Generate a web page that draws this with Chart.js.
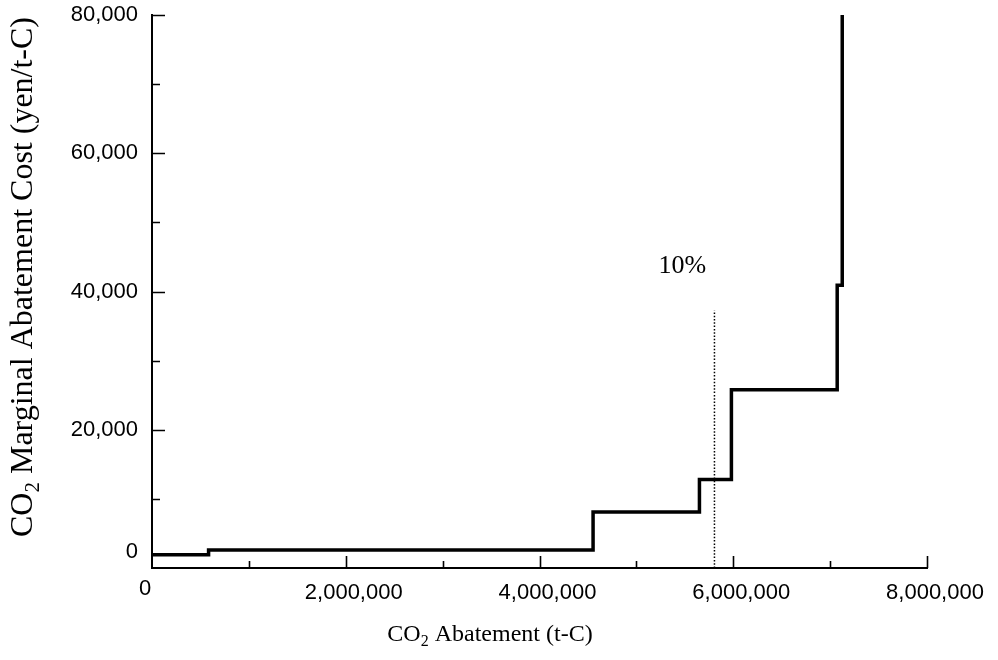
<!DOCTYPE html>
<html>
<head>
<meta charset="utf-8">
<script src="https://cdn.jsdelivr.net/npm/chart.js@4/dist/chart.umd.min.js"></script>
<style>
html,body{margin:0;padding:0;background:#fff;}
#wrap{width:998px;height:660px;}
</style>
</head>
<body>
<div id="wrap"><canvas id="c" width="998" height="660"></canvas></div>
<script>
/* DATA */
let abatement=[0,584000,4553000,5651000,5981000,7073000,7125000];
let cost=[1900,2600,8100,12800,25800,40900,80000];

let targetX=[5806000,5806000];
let targetY=[0,37300];
let targetLabel="10%";
let targetLabelPos=[5475000,43600];

let xTicks=[0,2000000,4000000,6000000,8000000];
let yTicks=[0,20000,40000,60000,80000];

/* points for the library */
function pts(xs,ys){
return xs.map((x,i)=>({x:x,y:ys[i]}));
}

const SANS="'Liberation Sans', Arial, sans-serif";
const SERIF="'Liberation Serif', 'Times New Roman', serif";

/* text with CO2 subscript */
function subText(ctx,parts,cx,cy){
let w=0;
parts.forEach(p=>{ctx.font=p.f;w+=ctx.measureText(p.t).width;});
let x=cx-w/2;
ctx.textAlign="left";
ctx.textBaseline="middle";
parts.forEach(p=>{
ctx.font=p.f;
ctx.fillText(p.t,x,cy+(p.dy||0));
x+=ctx.measureText(p.t).width;
});
}

/* inward ticks, zeros, titles, 10% */
const deco={
id:"deco",
afterDraw(chart){
let ctx=chart.ctx;
let xs=chart.scales.x, ys=chart.scales.y;
let a=chart.chartArea;
ctx.save();
ctx.strokeStyle="#000";
ctx.lineWidth=1.6;
ctx.beginPath();
for(let v=1000000;v<=8000000;v+=1000000){
let px=Math.round(xs.getPixelForValue(v))+0.5;
let len=(v%2000000===0)?12:7;
ctx.moveTo(px,a.bottom);
ctx.lineTo(px,a.bottom-len);
}
for(let v=10000;v<=80000;v+=10000){
let py=Math.round(ys.getPixelForValue(v))+0.5;
let len=(v%20000===0)?13:8;
ctx.moveTo(a.left,py);
ctx.lineTo(a.left+len,py);
}
ctx.stroke();

ctx.fillStyle="#000";
ctx.font="22px "+SANS;
ctx.textBaseline="middle";
ctx.textAlign="right";
ctx.fillText("0",a.left-14,ys.getPixelForValue(0)-16);
ctx.textAlign="center";
ctx.fillText("0",xs.getPixelForValue(0)-7,a.bottom+21);

ctx.font="26px "+SERIF;
ctx.fillText(targetLabel,xs.getPixelForValue(targetLabelPos[0]),ys.getPixelForValue(targetLabelPos[1]));

let big="24px "+SERIF, small="16px "+SERIF;
subText(ctx,[{t:"CO",f:big},{t:"2",f:small,dy:7},{t:" Abatement (t-C)",f:big}],490,635);

let bigY="32px "+SERIF, smallY="21px "+SERIF;
ctx.translate(24,277);
ctx.rotate(-Math.PI/2);
subText(ctx,[{t:"CO",f:bigY},{t:"2",f:smallY,dy:9},{t:" Marginal Abatement Cost (yen/t-C)",f:bigY}],0,0);
ctx.restore();
}
};

new Chart(document.getElementById("c"),{
type:"line",
data:{
datasets:[
{
data:pts(abatement,cost),
stepped:"before",
borderColor:"#000",
borderWidth:3.5,
pointRadius:0,
fill:false,
borderJoinStyle:"miter",
clip:false
},
{
data:pts(targetX,targetY),
borderColor:"#000",
borderWidth:1.5,
borderDash:[1.5,1.8],
pointRadius:0,
fill:false
}
]
},
options:{
responsive:false,
animation:false,
events:[],
layout:{padding:{top:15,right:71,left:0,bottom:0}},
plugins:{legend:{display:false},tooltip:{enabled:false}},
scales:{
x:{
type:"linear",
min:0,max:8000000,
afterFit(s){s.height=92;s.paddingLeft=0;s.paddingRight=0;},
afterBuildTicks(s){s.ticks=xTicks.map(v=>({value:v}));},
grid:{display:false,drawTicks:false},
border:{display:true,color:"#000",width:2},
ticks:{
color:"#000",
font:{family:SANS,size:22},
padding:12,
labelOffset:8,
maxRotation:0,
callback:v=>v===0?"":v.toLocaleString("en-US")
}
},
y:{
type:"linear",
min:0,max:80000,
afterFit(s){s.width=152;s.paddingTop=0;s.paddingBottom=0;},
afterBuildTicks(s){s.ticks=yTicks.map(v=>({value:v}));},
grid:{display:false,drawTicks:false},
border:{display:true,color:"#000",width:2},
ticks:{
color:"#000",
font:{family:SANS,size:22},
padding:14,
callback:v=>v===0?"":v.toLocaleString("en-US")
}
}
}
},
plugins:[deco]
});
</script>
</body>
</html>
